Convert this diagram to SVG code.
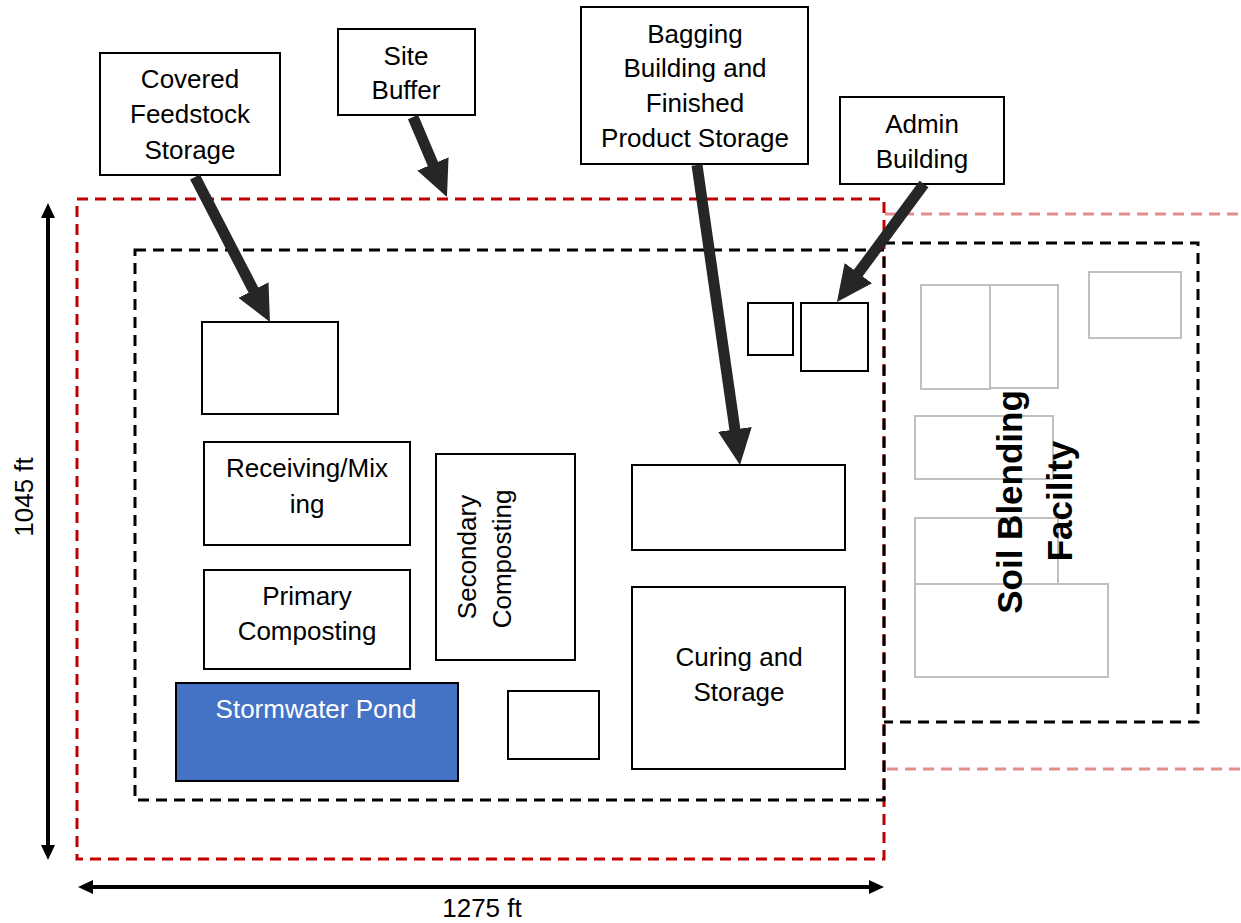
<svg xmlns="http://www.w3.org/2000/svg" width="1241" height="923" viewBox="0 0 1241 923">
<style>
.t{font-family:"Liberation Sans",Arial,sans-serif;font-size:26px;fill:#000;text-anchor:middle}
.box{fill:#fff;stroke:#000;stroke-width:2}
.grey{fill:#fff;stroke:#bfbfbf;stroke-width:2}
.red{fill:none;stroke:#c00000;stroke-width:3;stroke-dasharray:11 7}
.faint{fill:none;stroke:#c00000;stroke-opacity:0.45;stroke-width:3;stroke-dasharray:11 7}
.blk{fill:none;stroke:#000;stroke-width:3;stroke-dasharray:11 7}
.arr{stroke:#262626;stroke-width:11;fill:none;marker-end:url(#ah)}
.dim{stroke:#000;stroke-width:4;fill:none;marker-start:url(#dh);marker-end:url(#dh)}
.sb{font-family:"Liberation Sans",Arial,sans-serif;font-size:35px;font-weight:bold;text-anchor:middle}
</style>
<defs>
<marker id="ah" markerUnits="userSpaceOnUse" markerWidth="36" markerHeight="34" viewBox="0 0 36 34" refX="10" refY="17" orient="auto"><path d="M0,0 L36,17 L0,34 Z" fill="#262626"/></marker>
<marker id="dh" markerUnits="userSpaceOnUse" markerWidth="15" markerHeight="14" viewBox="0 0 15 14" refX="5" refY="7" orient="auto-start-reverse"><path d="M0,0 L15,7 L0,14 Z" fill="#000"/></marker>
</defs>
<rect width="1241" height="923" fill="#fff"/>

<g id="boundaries">
<path class="faint" d="M885,214 H1241 M887,769 H1241"/>
<rect class="red" x="77" y="199" width="807" height="660"/>
<rect class="blk" x="135" y="250" width="749" height="550"/>
<path class="blk" d="M884,243 H1198 V722 H884"/>
</g>

<g id="dimensions">
<path class="dim" d="M48,213 V850"/>
<path class="dim" d="M88,887 H874"/>
<text class="t" transform="translate(33,497) rotate(-90)">1045 ft</text>
<text class="t" x="482" y="917">1275 ft</text>
</g>

<g id="feedstock-storage"><rect class="box" x="202" y="322" width="136" height="92"/></g>
<g id="receiving-mixing"><rect class="box" x="204" y="442" width="206" height="103"/>
<text class="t" x="307" y="477">Receiving/Mix</text><text class="t" x="307" y="513">ing</text></g>
<g id="primary-composting"><rect class="box" x="204" y="570" width="206" height="99"/>
<text class="t" x="307" y="605">Primary</text><text class="t" x="307" y="640">Composting</text></g>
<g id="secondary-composting"><rect class="box" x="436" y="454" width="139" height="206"/>
<text class="t" transform="translate(476,557) rotate(-90)">Secondary</text>
<text class="t" transform="translate(511,559) rotate(-90)">Composting</text></g>
<g id="stormwater-pond"><rect x="176" y="683" width="282" height="98" fill="#4472c4" stroke="#000" stroke-width="2"/>
<text class="t" x="316" y="718" fill="#fff" style="fill:#fff">Stormwater Pond</text></g>
<g id="small-box"><rect class="box" x="508" y="691" width="91" height="68"/></g>
<g id="bagging-building"><rect class="box" x="632" y="465" width="213" height="85"/></g>
<g id="curing-storage"><rect class="box" x="632" y="587" width="213" height="182"/>
<text class="t" x="739" y="666">Curing and</text><text class="t" x="739" y="701">Storage</text></g>
<g id="small-building"><rect class="box" x="748" y="303" width="45" height="52"/></g>
<g id="admin-building"><rect class="box" x="801" y="303" width="67" height="68"/></g>

<g id="soil-blending-facility">
<rect class="grey" x="921" y="285" width="69" height="104"/>
<rect class="grey" x="990" y="285" width="68" height="103"/>
<rect class="grey" x="1089" y="272" width="92" height="66"/>
<rect class="grey" x="915" y="416" width="138" height="63"/>
<rect class="grey" x="915" y="518" width="143" height="66"/>
<rect class="grey" x="915" y="584" width="193" height="93"/>
<text class="sb" transform="translate(1022,502) rotate(-90)">Soil Blending</text>
<text class="sb" transform="translate(1072,501) rotate(-90)">Facility</text>
</g>

<g id="label-covered"><rect class="box" x="100" y="53" width="180" height="122"/>
<text class="t" x="190" y="88">Covered</text><text class="t" x="190" y="123">Feedstock</text><text class="t" x="190" y="159">Storage</text></g>
<g id="label-site-buffer"><rect class="box" x="338" y="29" width="137" height="86"/>
<text class="t" x="406" y="65">Site</text><text class="t" x="406" y="99">Buffer</text></g>
<g id="label-bagging"><rect class="box" x="581" y="7" width="227" height="157"/>
<text class="t" x="695" y="43">Bagging</text><text class="t" x="695" y="77">Building and</text><text class="t" x="695" y="112">Finished</text><text class="t" x="695" y="147">Product Storage</text></g>
<g id="label-admin"><rect class="box" x="840" y="97" width="164" height="87"/>
<text class="t" x="922" y="133">Admin</text><text class="t" x="922" y="168">Building</text></g>

<g id="connectors">
<path class="arr" d="M195,177 L258.0,298.9"/>
<path class="arr" d="M413,117 L436.8,173.1"/>
<path class="arr" d="M697,165 L736.3,439.3"/>
<path class="arr" d="M924,184 L852.4,281.1"/>
</g>
</svg>
